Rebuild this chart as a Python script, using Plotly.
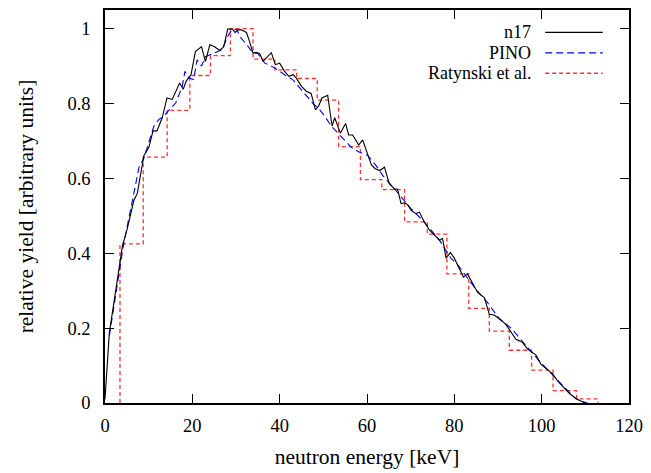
import plotly.graph_objects as go

# ---- data ----
n17_energy = [0, 0.5, 1, 4.0, 5.1, 6.6, 7.4, 8.9, 10.05, 11.0, 11.9, 13.1, 14.2, 15.4, 17.1, 17.9, 18.6,
              19.7, 20.7, 22.1, 23.0, 24.0, 25.1, 26.3, 27.2, 28.1, 29.1, 29.8, 30.5, 31.2, 32.4, 33.1,
              33.9, 34.6, 35.4, 36.2, 38.1, 39.0, 40.0, 41.0, 42.1, 43.1, 43.8, 45.0, 46.1, 47.2, 48.2,
              48.9, 49.7, 51.0, 52.0, 52.6, 53.9, 55.1, 55.8, 56.7, 58.1, 59.0, 60.0, 61.0, 61.9, 62.9,
              64.0, 65.1, 66.3, 67.0, 67.8, 68.6, 69.3, 70.1, 71.2, 72.0, 73.1, 74.3, 75.4, 76.6, 77.3,
              78.1, 79.1, 80.0, 81.1, 82.1, 83.0, 84.2, 85.3, 86.9, 88.0, 89.1, 90.3, 91.8, 93.0, 94.1,
              94.9, 95.6, 96.8, 97.9, 98.7, 99.8, 101.0, 102.5, 103.6, 105.1, 106.3, 107.4, 108.6, 110.0]
n17_yield = [0.01, 0.117, 0.188, 0.42, 0.466, 0.541, 0.56, 0.661, 0.683, 0.727, 0.727, 0.762, 0.815, 0.811,
             0.855, 0.838, 0.86, 0.877, 0.939, 0.952, 0.912, 0.957, 0.952, 0.942, 0.952, 0.999, 1.0, 0.99,
             0.997, 0.997, 0.99, 0.966, 0.935, 0.937, 0.934, 0.913, 0.936, 0.904, 0.908, 0.888, 0.873,
             0.877, 0.868, 0.846, 0.833, 0.827, 0.783, 0.793, 0.815, 0.822, 0.74, 0.762, 0.721, 0.747,
             0.716, 0.716, 0.689, 0.703, 0.669, 0.636, 0.626, 0.621, 0.63, 0.586, 0.572, 0.571, 0.533,
             0.535, 0.53, 0.515, 0.506, 0.51, 0.484, 0.462, 0.449, 0.435, 0.44, 0.387, 0.402, 0.387,
             0.36, 0.336, 0.345, 0.321, 0.296, 0.281, 0.237, 0.235, 0.225, 0.21, 0.19, 0.17, 0.166,
             0.162, 0.144, 0.135, 0.128, 0.104, 0.093, 0.078, 0.06, 0.042, 0.026, 0.016, 0.007, 0.0]

pino_energy = [1.0, 4.2, 7.8, 8.9, 11.2, 12.3, 13.4, 15.4, 16.2, 17.7, 18.3, 19.2, 20.3, 21.1, 22.1, 23.0,
               24.9, 26.8, 28.1, 29.1, 30.2, 30.9, 32.8, 33.9, 35.0, 36.6, 38.1, 39.6, 41.1, 43.0, 44.6,
               46.1, 47.8, 49.1, 50.3, 51.8, 53.3, 54.9, 56.4, 58.3, 60.2, 62.1, 63.6, 66.3, 70.1, 73.1,
               76.6, 79.2, 80.8, 83.0, 85.3, 87.6, 90.3, 93.0, 94.5, 99.4, 104.8, 107.8, 109.3, 110.5]
pino_yield = [0.18, 0.42, 0.63, 0.654, 0.74, 0.757, 0.766, 0.793, 0.802, 0.846, 0.886, 0.868, 0.864, 0.917,
              0.9, 0.925, 0.935, 0.944, 0.979, 0.999, 0.998, 0.979, 0.952, 0.935, 0.934, 0.908, 0.9, 0.89,
              0.877, 0.864, 0.842, 0.82, 0.798, 0.785, 0.767, 0.74, 0.722, 0.7, 0.683, 0.67, 0.661, 0.634,
              0.608, 0.572, 0.519, 0.484, 0.435, 0.387, 0.369, 0.334, 0.299, 0.268, 0.225, 0.2, 0.18,
              0.113, 0.047, 0.011, 0.004, 0.0]

ratynski_edges = [3.43, 8.75, 14.24, 19.43, 24.16, 28.73, 33.9, 38.9, 43.9, 48.6, 53.5, 58.5, 63.4, 68.6,
                  73.8, 78.3, 83.3, 88.0, 92.6, 97.7, 102.6, 108.0, 112.9]
ratynski_levels = [0.425, 0.657, 0.782, 0.875, 0.928, 1.0, 0.919, 0.89, 0.867, 0.809, 0.685, 0.597, 0.57,
                   0.484, 0.451, 0.345, 0.253, 0.192, 0.141, 0.088, 0.033, 0.011]

x_ticks = [0, 20, 40, 60, 80, 100, 120]
y_ticks = [0, 0.2, 0.4, 0.6, 0.8, 1]
y_tick_labels = ["0", "0.2", "0.4", "0.6", "0.8", "1"]

legend_names = ["n17", "PINO", "Ratynski et al."]

FONT = "Liberation Serif"
BLACK = "#000000"
BLUE = "#0000ff"
RED = "#ff3030"
RED_DASH = "4px,3px"
BLUE_DASH = "7px,4px"
TICK_SIZE = 18.5
TITLE_SIZE = 21.5
LEGEND_SIZE = 18

fig = go.Figure()

fig.add_trace(go.Scatter(
    x=[ratynski_edges[0]] + ratynski_edges,
    y=[0] + ratynski_levels + [0],
    mode="lines", line=dict(color=RED, width=1.3, dash=RED_DASH, shape="hv"),
    name=legend_names[2], showlegend=False))
fig.add_trace(go.Scatter(
    x=pino_energy, y=pino_yield, mode="lines",
    line=dict(color=BLUE, width=1.1, dash=BLUE_DASH), name=legend_names[1], showlegend=False))
fig.add_trace(go.Scatter(
    x=n17_energy, y=n17_yield, mode="lines",
    line=dict(color=BLACK, width=1.1), name=legend_names[0], showlegend=False))

# custom gnuplot-style legend (text right-aligned, sample line to the right)
leg_y = [0.943, 0.891, 0.839]
leg_styles = [dict(color=BLACK, width=1.1),
              dict(color=BLUE, width=1.1, dash=BLUE_DASH),
              dict(color=RED, width=1.3, dash=RED_DASH)]
for name, yy, st in zip(legend_names, leg_y, leg_styles):
    fig.add_annotation(x=0.815, y=yy, xref="paper", yref="paper", text=name, showarrow=False,
                       xanchor="right", yanchor="middle", borderpad=0,
                       font=dict(family=FONT, size=LEGEND_SIZE, color=BLACK))
    fig.add_shape(type="line", xref="paper", yref="paper", x0=0.84, x1=0.95, y0=yy, y1=yy, line=st)

axis_common = dict(showline=True, linecolor=BLACK, linewidth=1.6, mirror="allticks", ticks="inside",
                   ticklen=9, tickwidth=1.3, tickcolor=BLACK, showgrid=False, zeroline=False,
                   tickfont=dict(family=FONT, size=TICK_SIZE, color=BLACK))

fig.update_layout(
    width=651, height=473,
    margin=dict(l=105, r=21, t=8, b=69),
    paper_bgcolor="white", plot_bgcolor="white",
    showlegend=False,
    xaxis=dict(range=[0, 120], tickvals=x_ticks, ticktext=[str(v) for v in x_ticks],
               ticklabelstandoff=5,
               title=dict(text="neutron energy [keV]", font=dict(family=FONT, size=TITLE_SIZE, color=BLACK),
                          standoff=14),
               **axis_common),
    yaxis=dict(range=[0, 1.05], tickvals=y_ticks, ticktext=y_tick_labels,
               ticklabelstandoff=9,
               title=dict(text="relative yield [arbitrary units]",
                          font=dict(family=FONT, size=TITLE_SIZE, color=BLACK), standoff=28),
               **axis_common),
)

fig.write_html("out.html")
